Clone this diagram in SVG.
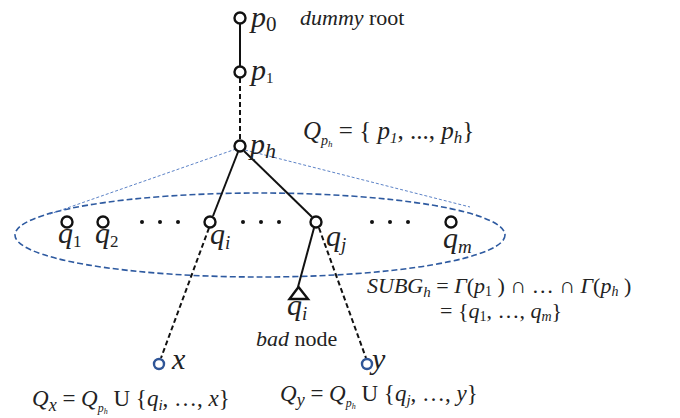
<svg xmlns="http://www.w3.org/2000/svg" width="680" height="418" viewBox="0 0 680 418">
<style>
text{font-family:"Liberation Serif","Times New Roman",serif;fill:#222}
.it{font-style:italic}
.n{fill:#fff;stroke:#111;stroke-width:2.4}
.b{fill:#fff;stroke:#2f5597;stroke-width:2.4}
.s{stroke:#111;stroke-width:2;fill:none}
.d{stroke:#111;stroke-width:2;fill:none;stroke-dasharray:5 3}
.e{stroke:#2e5aa0;stroke-width:1.6;fill:none;stroke-dasharray:6 3}
.t{stroke:#4a74c0;stroke-width:0.9;fill:none;stroke-dasharray:3 2}
.dot{fill:#111}
</style>
<g id="connectors">
<ellipse class="e" cx="260" cy="235" rx="245" ry="42"/>
<line class="t" x1="236" y1="149" x2="50" y2="214"/>
<line class="t" x1="245" y1="150" x2="470" y2="207"/>
<line class="s" x1="240" y1="24" x2="240" y2="66"/>
<line class="d" x1="240" y1="78" x2="240" y2="141"/>
<line class="s" x1="238" y1="152" x2="213" y2="216"/>
<line class="s" x1="244" y1="151" x2="312" y2="217"/>
<line class="s" x1="314" y1="228" x2="298" y2="287"/>
<line class="d" x1="209" y1="228" x2="161" y2="358"/>
<line class="d" x1="319" y1="228" x2="366" y2="358"/>
</g>
<g id="p0"><circle class="n" cx="240" cy="18" r="5.5"/><text x="251" y="27" font-size="30"><tspan class="it">p</tspan><tspan font-size="21" dy="4">0</tspan></text><text x="300" y="25" font-size="22"><tspan class="it">dummy</tspan> root</text></g>
<g id="p1"><circle class="n" cx="240" cy="72" r="5.5"/><text x="251" y="80" font-size="30"><tspan class="it">p</tspan><tspan font-size="15" dy="3">1</tspan></text></g>
<g id="ph"><circle class="n" cx="240" cy="146" r="5.5"/><text x="250" y="154" font-size="30"><tspan class="it">p</tspan><tspan class="it" font-size="22" dy="4">h</tspan></text>
<text x="303" y="139" font-size="25"><tspan class="it">Q</tspan><tspan class="it" font-size="14" dy="6">p</tspan><tspan class="it" font-size="9" dy="2">h</tspan><tspan dy="-8"> = { </tspan><tspan class="it">p</tspan><tspan class="it" font-size="15" dy="4">1</tspan><tspan dy="-4">, ..., </tspan><tspan class="it">p</tspan><tspan class="it" font-size="17" dy="4">h</tspan><tspan dy="-4">}</tspan></text></g>
<g id="q1"><circle class="n" cx="67" cy="222" r="5.5"/><text x="58" y="243" font-size="30"><tspan class="it">q</tspan><tspan font-size="17" dy="4">1</tspan></text></g>
<g id="q2"><circle class="n" cx="103" cy="222" r="5.5"/><text x="95" y="243" font-size="30"><tspan class="it">q</tspan><tspan font-size="17" dy="4">2</tspan></text></g>
<g id="dots1"><circle class="dot" cx="142" cy="222" r="2"/><circle class="dot" cx="160" cy="222" r="2"/><circle class="dot" cx="178" cy="222" r="2"/></g>
<g id="qi"><circle class="n" cx="210" cy="222" r="5.5"/><text x="210" y="244" font-size="30"><tspan class="it">q</tspan><tspan class="it" font-size="19" dy="5">i</tspan></text></g>
<g id="dots2"><circle class="dot" cx="243" cy="222" r="2"/><circle class="dot" cx="261" cy="222" r="2"/><circle class="dot" cx="279" cy="222" r="2"/></g>
<g id="qj"><circle class="n" cx="316" cy="222" r="5.5"/><text x="326" y="246" font-size="30"><tspan class="it">q</tspan><tspan class="it" font-size="19" dy="5">j</tspan></text></g>
<g id="dots3"><circle class="dot" cx="372" cy="222" r="2"/><circle class="dot" cx="390" cy="222" r="2"/><circle class="dot" cx="408" cy="222" r="2"/></g>
<g id="qm"><circle class="n" cx="451" cy="222" r="5.5"/><text x="443" y="248" font-size="30"><tspan class="it">q</tspan><tspan class="it" font-size="19" dy="5">m</tspan></text></g>
<g id="bad"><polygon points="298.5,287 289.5,299 308,299" fill="#fff" stroke="#111" stroke-width="2.4" stroke-linejoin="miter"/><text x="287" y="315" font-size="30"><tspan class="it">q</tspan><tspan class="it" font-size="19" dy="5">i</tspan></text><text x="256" y="346" font-size="22"><tspan class="it">bad</tspan> node</text></g>
<g id="x"><circle class="b" cx="159" cy="364" r="5"/><text x="172" y="369" font-size="30" class="it">x</text></g>
<g id="y"><circle class="b" cx="367" cy="364" r="5"/><text x="372" y="369" font-size="30" class="it">y</text></g>
<g id="subg"><text x="367" y="293" font-size="22"><tspan class="it">SUBG</tspan><tspan class="it" font-size="15" dy="4">h</tspan><tspan dy="-4"> = </tspan><tspan class="it">Γ</tspan>(<tspan class="it">p</tspan><tspan font-size="14" dy="3">1</tspan><tspan dy="-3"> ) ∩ … ∩ </tspan><tspan class="it">Γ</tspan>(<tspan class="it">p</tspan><tspan class="it" font-size="14" dy="3">h</tspan><tspan dy="-3"> )</tspan></text>
<text x="440" y="318" font-size="22">= {<tspan class="it">q</tspan><tspan font-size="14" dy="3">1</tspan><tspan dy="-3">, …, </tspan><tspan class="it">q</tspan><tspan class="it" font-size="14" dy="3">m</tspan><tspan dy="-3">}</tspan></text></g>
<g id="qx"><text x="32" y="406" font-size="23"><tspan class="it">Q</tspan><tspan class="it" font-size="18" dy="5">x</tspan><tspan dy="-5"> = </tspan><tspan class="it">Q</tspan><tspan class="it" font-size="12" dy="6">p</tspan><tspan class="it" font-size="8" dy="2">h</tspan><tspan dy="-8"> U {</tspan><tspan class="it">q</tspan><tspan class="it" font-size="15" dy="4">i</tspan><tspan dy="-4">, …, </tspan><tspan class="it">x</tspan>}</text></g>
<g id="qy"><text x="280" y="401" font-size="23"><tspan class="it">Q</tspan><tspan class="it" font-size="18" dy="5">y</tspan><tspan dy="-5"> = </tspan><tspan class="it">Q</tspan><tspan class="it" font-size="12" dy="6">p</tspan><tspan class="it" font-size="8" dy="2">h</tspan><tspan dy="-8"> U {</tspan><tspan class="it">q</tspan><tspan class="it" font-size="15" dy="4">j</tspan><tspan dy="-4">, …, </tspan><tspan class="it">y</tspan>}</text></g>
</svg>
